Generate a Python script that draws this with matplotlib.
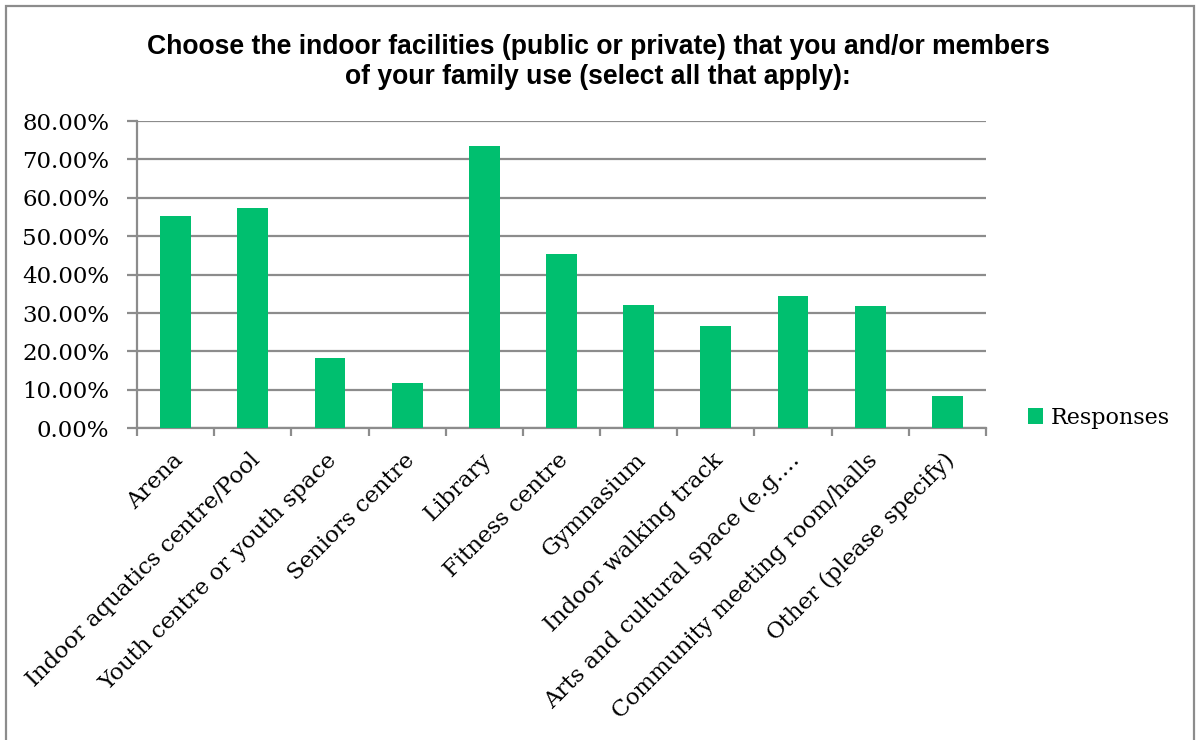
import numpy as np
import matplotlib.pyplot as plt
from matplotlib.patches import Rectangle
from matplotlib.transforms import ScaledTranslation

# Kategoriler ve yanit oranlari (%)
kategoriler = ['Arena', 'Indoor aquatics centre/Pool', 'Youth centre or youth space',
               'Seniors centre', 'Library', 'Fitness centre', 'Gymnasium',
               'Indoor walking track', 'Arts and cultural space (e.g.…',
               'Community meeting room/halls', 'Other (please specify)']
yanitlar = [55.3, 57.3, 18.2, 11.7, 73.5, 45.5, 32.1, 26.7, 34.4, 31.9, 8.4]

baslik = ("Choose the indoor facilities (public or private) that you and/or members\n"
          "of your family use (select all that apply):")

renk = '#00BF6F'
gri = '#8C8C8C'
serif = 'DejaVu Serif'

fig = plt.figure(figsize=(11.96, 7.4), dpi=100)
ax = fig.add_axes([137 / 1196, 1 - 428.3 / 740, (986 - 137) / 1196, (428.3 - 121) / 740])

x = np.arange(len(kategoriler))
ax.bar(x, yanitlar, width=0.4, color=renk, zorder=3, label='Responses')

ax.set_xlim(-0.5, len(kategoriler) - 0.5)
ax.set_ylim(0, 80)
ax.set_yticks(np.arange(0, 81, 10))
ax.set_yticklabels([f'{v:.2f}%' for v in np.arange(0, 81, 10)], fontfamily=serif, fontsize=16.5)
ax.yaxis.grid(True, color=gri, linewidth=1.6, zorder=0)

# Excel tarzi: isaretler kategori sinirlarinda, etiketler ortada
ax.set_xticks(x)
ax.set_xticklabels(kategoriler, rotation=45, ha='right', va='top', rotation_mode='anchor',
                   fontfamily=serif, fontsize=16.5)
ax.tick_params(axis='x', length=0, pad=15)
kaydir = ScaledTranslation(-4 / 100, 0, fig.dpi_scale_trans)
for etiket in ax.get_xticklabels():
    etiket.set_transform(etiket.get_transform() + kaydir)
ax.set_xticks(np.arange(-0.5, len(kategoriler)), minor=True)
ax.tick_params(axis='x', which='minor', length=6, width=1.6, color=gri)
ax.tick_params(axis='y', length=7, width=1.6, color=gri, pad=13)

for s in ['top', 'right']:
    ax.spines[s].set_visible(False)
for s in ['left', 'bottom']:
    ax.spines[s].set_color(gri)
    ax.spines[s].set_linewidth(1.6)

fig.text(0.5, 1 - 61.5 / 740, baslik, ha='center', va='center', fontsize=19.1,
         fontweight='bold', fontfamily='Liberation Sans', linespacing=1.2)

# Lejant
fig.legend(loc='center left', bbox_to_anchor=(1019 / 1196, 1 - 418 / 740), frameon=False,
           prop={'family': serif, 'size': 16}, handlelength=0.7, handleheight=0.7,
           handletextpad=0.35, borderaxespad=0)

# Grafik cercevesi
fig.patches.append(Rectangle((6 / 1196, -0.01), 1188 / 1196, 1 - 6 / 740 + 0.01,
                             transform=fig.transFigure, fill=False, edgecolor=gri,
                             linewidth=1.6))

plt.savefig('out.png', dpi=100)
